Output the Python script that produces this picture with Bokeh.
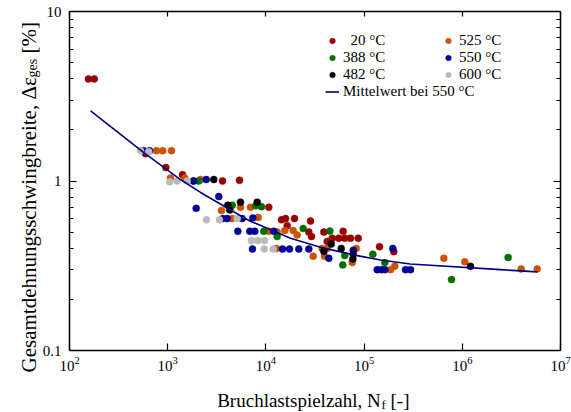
from math import pi
from bokeh.plotting import figure
from bokeh.models import (LogAxis, FixedTicker, CustomJSTickFormatter, Legend,
                          LegendItem, Label)
from bokeh.embed import file_html
from bokeh.resources import INLINE

FONT = "Liberation Serif"

# ---------------- data ----------------
red_N = [156, 179, 594, 957, 1416, 3615, 5385, 10700, 14420, 15840, 19540, 28460,
         16480, 27350, 29120, 38890, 61210, 42100, 47370, 55260, 63530, 72750,
         87100, 143500, 200600]
red_eps = [4.0, 4.0, 1.45, 1.20, 1.09, 1.00, 1.01, 0.70, 0.59, 0.60, 0.60, 0.58,
           0.545, 0.50, 0.47, 0.50, 0.505, 0.44, 0.46, 0.46, 0.46, 0.46,
           0.46, 0.41, 0.383]

orange_N = [769, 891, 1093, 1067, 1494, 2158, 3529, 5511, 6966, 4538, 8350, 10700,
            13030, 12830, 15570, 18960, 20820, 37430, 42100, 30320, 39540, 83130,
            75690, 185700, 205500, 648600, 1060000, 3980000, 5796000]
orange_eps = [1.51, 1.51, 1.51, 1.04, 1.04, 1.02, 0.67, 0.70, 0.70, 0.60, 0.61, 0.505,
              0.50, 0.40, 0.51, 0.51, 0.48, 0.40, 0.40, 0.36, 0.36, 0.40,
              0.33, 0.30, 0.314, 0.35, 0.334, 0.303, 0.303]

green_N = [1820, 2070, 4538, 7890, 9020, 9520, 13030, 23990, 44780, 63530, 60690,
           122700, 162500, 776800, 2931000]
green_eps = [1.00, 1.00, 0.72, 0.715, 0.705, 0.505, 0.47, 0.525, 0.507, 0.363, 0.32,
             0.37, 0.33, 0.262, 0.354]

black_N = [2946, 4093, 4288, 5511, 8150, 46290, 38890, 58450, 77460, 76740, 1211000]
black_eps = [1.02, 0.72, 0.675, 0.75, 0.75, 0.425, 0.385, 0.40, 0.37, 0.347, 0.314]

blue_N = [568, 653, 1845, 2466, 3313, 1950, 3640, 4036, 5738, 7360, 5176, 6857, 7710,
          12040, 7305, 14760, 17390, 21630, 27350, 43740, 77460, 135900, 150000,
          162500, 196000, 264200, 297000]
blue_eps = [1.51, 1.51, 1.00, 1.02, 0.81, 0.69, 0.60, 0.60, 0.60, 0.605, 0.505, 0.505,
            0.505, 0.505, 0.397, 0.397, 0.397, 0.397, 0.397, 0.35, 0.39, 0.30, 0.30,
            0.30, 0.40, 0.30, 0.30]

grey_N = [529, 640, 1050, 1250, 1580, 2483, 3368, 5105, 7130, 8270, 9680, 9610, 11860]
grey_eps = [1.51, 1.49, 0.99, 1.00, 1.00, 0.59, 0.59, 0.60, 0.445, 0.445, 0.445,
            0.397, 0.397]

mean_N = [164, 571, 1350, 2160, 6700, 17800, 36000, 85000, 147000, 295000,
          2450000, 5800000]
mean_eps = [2.59, 1.47, 1.02, 0.856, 0.585, 0.46, 0.406, 0.363, 0.342, 0.324,
            0.300, 0.291]

x_ticks = [1e2, 1e3, 1e4, 1e5, 1e6, 1e7]
y_ticks = [0.1, 1, 10]
y_minor = [0.2, 0.3, 0.4, 0.5, 0.6, 0.7, 0.8, 0.9, 2, 3, 4, 5, 6, 7, 8, 9]

series = [
    ("\u200720 °C", red_N, red_eps, "#990000"),
    ("525 °C", orange_N, orange_eps, "#cc5200"),
    ("388 °C", green_N, green_eps, "#007000"),
    ("550 °C", blue_N, blue_eps, "#000099"),
    ("482 °C", black_N, black_eps, "#000000"),
    ("600 °C", grey_N, grey_eps, "#bbbbbb"),
]

# ---------------- layout: axes box inside a full-canvas frame ----------------
W, H = 571, 412
BOX_L, BOX_R, BOX_T, BOX_B = 69, 560, 11, 350   # pixel box of the axes
XMIN, XMAX = 1e2, 1e7
YMIN, YMAX = 0.1, 10
import math
dx = (BOX_R - BOX_L) / (math.log10(XMAX) - math.log10(XMIN))
dy = (BOX_B - BOX_T) / (math.log10(YMAX) - math.log10(YMIN))
x_range = (10 ** (math.log10(XMIN) - BOX_L / dx), 10 ** (math.log10(XMAX) + (W - BOX_R) / dx))
y_range = (10 ** (math.log10(YMIN) - (H - BOX_B) / dy), 10 ** (math.log10(YMAX) + BOX_T / dy))

p = figure(width=W, height=H, x_axis_type="log", y_axis_type="log",
           x_range=x_range, y_range=y_range,
           output_backend="svg", toolbar_location=None,
           min_border=0)
p.grid.visible = False
p.outline_line_color = None
p.background_fill_color = "white"
p.border_fill_color = "white"


def style(ax, ticker, minor, loc, bounds, labels=True):
    ax.ticker = ticker
    ax.fixed_location = loc
    ax.bounds = bounds
    ax.axis_line_width = 1.5
    ax.axis_line_color = "black"
    ax.major_tick_in = 7
    ax.major_tick_out = 0
    ax.major_tick_line_width = 1.2
    if minor:
        ax.minor_tick_in = 4
        ax.minor_tick_out = 0
        ax.minor_tick_line_width = 1.0
    else:
        ax.minor_tick_line_color = None
    ax.major_label_text_font = FONT
    ax.major_label_text_font_size = "15px"
    ax.major_label_text_color = "black"
    if not labels:
        ax.formatter = CustomJSTickFormatter(code="return ''")
        ax.major_label_standoff = 0


style(p.xaxis[0], FixedTicker(ticks=x_ticks, minor_ticks=[]), False, YMIN, (XMIN, XMAX))
p.xaxis[0].major_label_standoff = 6
style(p.yaxis[0], FixedTicker(ticks=y_ticks, minor_ticks=y_minor), True, XMIN, (YMIN, YMAX))
p.yaxis[0].formatter = CustomJSTickFormatter(code="return tick.toString()")
p.yaxis[0].major_label_standoff = 8

top = LogAxis()
style(top, FixedTicker(ticks=x_ticks, minor_ticks=[]), False, YMAX, (XMIN, XMAX), labels=False)
top.major_tick_in = 5
p.add_layout(top, "above")
right = LogAxis()
style(right, FixedTicker(ticks=y_ticks, minor_ticks=y_minor), True, XMAX, (YMIN, YMAX), labels=False)
p.add_layout(right, "right")

renders = {}
for lab, xs, ys, col in series:
    r = p.scatter(xs, ys, size=7, fill_color=col, line_color=col, line_width=0.5)
    renders[lab] = r

ln = p.line(mean_N, mean_eps, line_color="#000080", line_width=1.6)

leg_kw = dict(padding=0, margin=0, spacing=0, border_line_alpha=0,
              background_fill_alpha=0, glyph_width=14, glyph_height=17,
              label_height=17, label_standoff=4, label_text_font=FONT,
              label_text_font_size="15px", label_text_color="black")

leg1 = Legend(items=[LegendItem(label="\u200720 °C", renderers=[renders["\u200720 °C"]]),
                     LegendItem(label="388 °C", renderers=[renders["388 °C"]]),
                     LegendItem(label="482 °C", renderers=[renders["482 °C"]]),
                     LegendItem(label="Mittelwert bei 550 °C", renderers=[ln])],
              location=(325, 312), **leg_kw)
leg2 = Legend(items=[LegendItem(label="525 °C", renderers=[renders["525 °C"]]),
                     LegendItem(label="550 °C", renderers=[renders["550 °C"]]),
                     LegendItem(label="600 °C", renderers=[renders["600 °C"]])],
              location=(441, 329), **leg_kw)
p.add_layout(leg1, "center")
p.add_layout(leg2, "center")

# axis titles (with subscripts); screen units measured from the canvas bottom-left
lab_kw = dict(x_units="screen", y_units="screen", text_font=FONT, text_color="black",
              text_baseline="alphabetic", text_align="left")
p.add_layout(Label(x=216.7, y=12, text="Bruchlastspielzahl, N", text_font_size="19px", **lab_kw))
p.add_layout(Label(x=381, y=8, text="f", text_font_size="13px", **lab_kw))
p.add_layout(Label(x=390, y=12, text="[-]", text_font_size="19px", **lab_kw))

p.add_layout(Label(x=28, y=40, angle=pi / 2, text="Gesamtdehnungsschwingbreite, Δε",
                   text_font_size="21px", **lab_kw))
p.add_layout(Label(x=32, y=335, angle=pi / 2, text="ges", text_font_size="14px", **lab_kw))
p.add_layout(Label(x=28, y=359, angle=pi / 2, text="[%]", text_font_size="21px", **lab_kw))

open("out.html", "w").write(file_html(p, INLINE))
